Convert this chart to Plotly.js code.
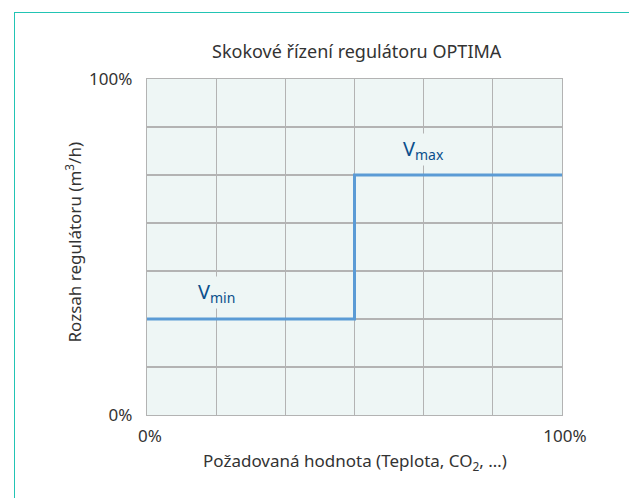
<!DOCTYPE html>
<html><head><meta charset="utf-8">
<script src="https://cdn.plot.ly/plotly-3.0.1.min.js"></script>
<style>
html,body{margin:0;padding:0;background:#fff;}
#wrap{position:relative;width:629px;height:498px;overflow:hidden;}
#frame{position:absolute;left:14px;top:12px;width:700px;height:600px;border-top:1.5px solid #22c4b4;border-left:1.5px solid #22c4b4;pointer-events:none;}
#chart{position:absolute;left:0;top:0;width:629px;height:498px;}
</style></head>
<body><div id="wrap"><div id="chart"></div><div id="frame"></div></div>
<script>
const demand = [0, 50, 100];            // Požadovaná hodnota (%)
const flow = [28.57, 71.43, 71.43];      // Rozsah regulátoru (%)
const xTicks = [0, 100];
const xTickText = ['0%', '100%'];
const xGrid = [16.67, 33.33, 50, 66.67, 83.33];
const yTicks = [0, 100];
const yTickText = ['0%', '100%'];
const yGrid = [14.29, 28.57, 42.86, 57.14, 71.43, 85.71];
const labels = ['V<sub>min</sub>', 'V<sub>max</sub>'];
const labelX = [16.67, 66.67];
const labelY = [36.5, 79];

const font = 'Noto Sans, sans-serif';
const trace = {x: demand, y: flow, type: 'scatter', mode: 'lines',
  line: {shape: 'hv', color: '#5b9bd5', width: 3}, hoverinfo: 'skip'};

const gridStyle = {gridcolor: '#b3b3b3', gridwidth: 1.3};
const layout = {
  width: 629, height: 498,
  margin: {l: 147, r: 67, t: 79, b: 83},
  paper_bgcolor: '#ffffff', plot_bgcolor: '#eef6f5',
  font: {family: font, color: '#333333', size: 17},
  showlegend: false,
  xaxis: Object.assign({range: [0, 100], tickvals: xTicks, ticktext: xTickText, showgrid: true,
    zeroline: false, showline: true, mirror: true,
    linecolor: '#b3b3b3', linewidth: 1.3, ticks: '', tickfont: {size: 17, color: '#333'},
    ticklabelstandoff: 5, ticklabelshift: 3, fixedrange: true,
    minor: {tickvals: xGrid, showgrid: true, gridcolor: '#b3b3b3', gridwidth: 1.3, ticks: ''}}, gridStyle),
  yaxis: Object.assign({range: [0, 100], tickvals: yTicks, ticktext: yTickText, showgrid: true,
    zeroline: false, showline: true, mirror: true,
    linecolor: '#b3b3b3', linewidth: 1.3, ticks: '', tickfont: {size: 17, color: '#333'},
    ticklabelstandoff: 10, fixedrange: true,
    minor: {tickvals: yGrid, showgrid: true, gridcolor: '#b3b3b3', gridwidth: 1.3, ticks: ''}}, gridStyle),
  annotations: [
    {text: 'Skokové řízení regulátoru OPTIMA', xref: 'paper', yref: 'paper', x: 0.505, y: 1.082,
      xanchor: 'center', yanchor: 'middle', showarrow: false, font: {size: 18, color: '#333'}},
    {text: 'Požadovaná hodnota (Teplota, CO<sub>2</sub>, …)', xref: 'paper', yref: 'paper', x: 0.5, y: -0.138,
      xanchor: 'center', yanchor: 'middle', showarrow: false, font: {size: 17, color: '#333'}},
    {text: 'Rozsah regulátoru (m<sup>3</sup>/h)', xref: 'paper', yref: 'paper', x: -0.177, y: 0.515,
      xanchor: 'center', yanchor: 'middle', textangle: -90, showarrow: false, font: {size: 17, color: '#333'}},
  ].concat(labels.map((t, i) => ({text: t, x: labelX[i], y: labelY[i], xref: 'x', yref: 'y',
      showarrow: false, bgcolor: '#eef6f5', font: {size: 20, color: '#0b4f8c'}})))
};
Plotly.newPlot('chart', [trace], layout, {displayModeBar: false, staticPlot: true});
</script></body></html>
